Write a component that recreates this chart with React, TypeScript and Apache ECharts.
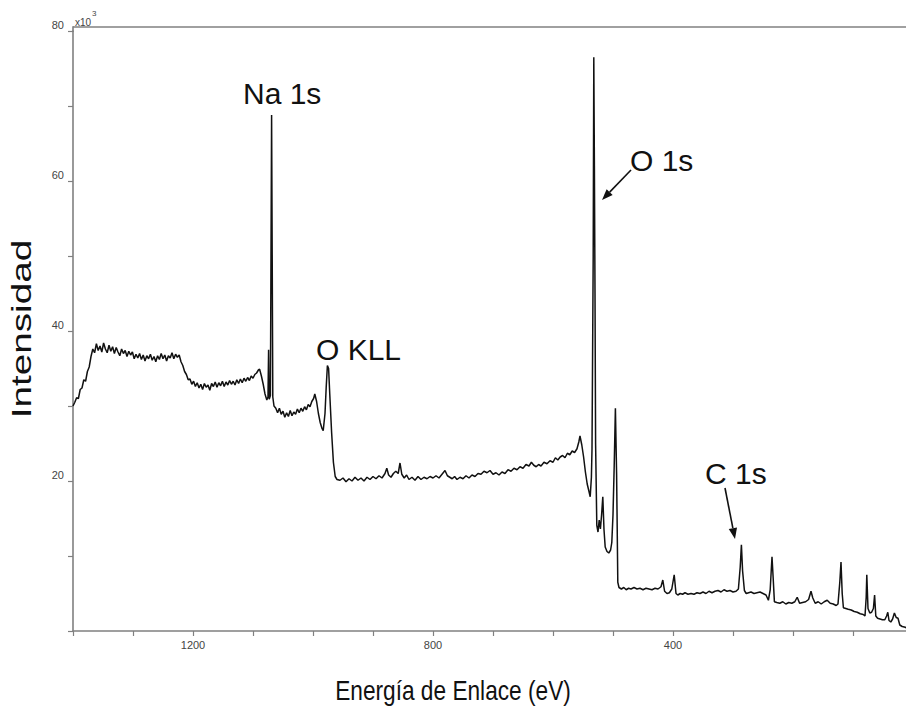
import React, { useEffect, useRef } from "react";
import * as echarts from "echarts";

// XPS survey spectrum: [binding energy (eV), intensity (x10^3 counts)]
const segHighBE: number[][] = [
  [1400, 30.0], [1397, 30.5], [1394, 31.1], [1391, 31.0], [1388, 32.2], [1385, 32.4], [1382, 33.5], [1379, 33.3],
  [1376, 34.6], [1373, 35.2], [1370, 36.6], [1367, 37.6], [1364, 37.1], [1361, 38.3], [1358, 37.4], [1355, 38.0],
  [1352, 37.2], [1349, 38.4], [1346, 37.6], [1343, 37.1], [1340, 38.1], [1337, 37.3], [1334, 37.9], [1331, 37.0],
  [1328, 37.8], [1325, 37.2], [1322, 36.7], [1319, 37.6], [1316, 37.0], [1313, 37.4], [1310, 36.6], [1307, 37.3],
  [1304, 36.8], [1301, 37.2], [1298, 36.3], [1295, 36.9], [1292, 36.4], [1289, 37.0], [1286, 36.2], [1283, 36.8],
  [1280, 36.0], [1277, 36.7], [1274, 36.3], [1271, 36.9], [1268, 36.1], [1265, 36.6], [1262, 35.9], [1259, 36.7],
  [1256, 36.2], [1253, 37.0], [1250, 36.3], [1247, 36.8], [1244, 36.0], [1241, 36.7], [1238, 36.4], [1235, 37.1],
  [1232, 36.3], [1229, 36.9], [1226, 36.5], [1223, 36.8], [1220, 35.9], [1217, 35.4], [1214, 34.6], [1211, 34.2],
  [1208, 33.5], [1205, 33.6], [1202, 32.9], [1199, 33.3], [1196, 32.6],
];
const segNa: number[][] = [
  [1193, 33.1], [1190, 32.4], [1187, 32.9], [1184, 32.2], [1181, 33.0], [1178, 32.5], [1175, 32.8], [1172, 32.1],
  [1169, 33.0], [1166, 32.6], [1163, 33.2], [1160, 32.5], [1157, 33.1], [1154, 32.7], [1151, 33.3], [1148, 32.6],
  [1145, 33.2], [1142, 32.8], [1139, 33.4], [1136, 32.9], [1133, 33.3], [1130, 32.8], [1127, 33.5], [1124, 33.0],
  [1121, 33.6], [1118, 33.1], [1115, 33.7], [1112, 33.3], [1109, 33.8], [1106, 33.4], [1103, 34.0], [1100, 33.7],
  [1097, 34.2], [1094, 34.4], [1091, 34.8], [1089, 34.9], [1086, 34.0], [1083, 32.9], [1080, 31.6], [1077, 30.8],
  [1075, 31.2], [1074, 37.5], [1073, 30.9], [1071, 31.4], [1069, 68.8], [1067, 31.2], [1065, 30.0], [1062, 29.7],
];
const segOKLL: number[][] = [
  [1059, 29.1], [1056, 29.7], [1053, 28.9], [1050, 29.3], [1047, 28.5], [1044, 29.1], [1041, 28.6], [1038, 29.4],
  [1035, 28.7], [1032, 29.2], [1029, 28.9], [1026, 29.6], [1023, 29.1], [1020, 29.7], [1017, 29.3], [1014, 29.9],
  [1011, 29.5], [1008, 30.2], [1005, 29.9], [1002, 30.6], [999, 31.0], [997, 31.6], [994, 30.6], [991, 29.0],
  [988, 27.8], [985, 27.0], [983, 26.7], [980, 29.0], [978, 32.5], [976, 35.4], [974, 35.0], [972, 31.5],
  [969, 26.5], [966, 22.5], [963, 20.6], [960, 20.2],
];
const segMid: number[][] = [
  [955, 20.1], [950, 20.4], [945, 19.9], [940, 20.3], [935, 20.0], [930, 20.5], [925, 20.1], [920, 20.4],
  [915, 20.0], [910, 20.5], [905, 20.2], [900, 20.6], [895, 20.3], [890, 20.7], [885, 20.4], [880, 21.0],
  [877, 21.7], [874, 20.8], [870, 20.5], [866, 21.0], [862, 21.3], [858, 21.0], [855, 22.4], [852, 20.9],
  [848, 20.4], [844, 20.8], [840, 20.2], [835, 20.5], [830, 20.1], [825, 20.6], [820, 20.2], [815, 20.5],
  [810, 20.3], [805, 20.6], [800, 20.4], [795, 20.7], [790, 20.4], [785, 20.9], [780, 21.4], [776, 20.7],
  [772, 20.5], [768, 20.3], [764, 20.6], [760, 20.2], [755, 20.5], [750, 20.3], [745, 20.7], [740, 20.4],
  [735, 20.8], [730, 20.6], [725, 21.0], [720, 20.9], [715, 21.3], [710, 21.1], [705, 21.4], [700, 20.9],
  [695, 21.1], [690, 20.8], [685, 21.2], [680, 21.0], [675, 21.5], [670, 21.3], [665, 21.7], [660, 21.5],
  [655, 21.9], [650, 21.7], [645, 22.2], [640, 22.0], [636, 22.5], [632, 22.1], [628, 21.9], [624, 22.2],
  [620, 22.0], [615, 22.5], [610, 22.3], [605, 22.7], [600, 22.5], [596, 23.1], [592, 22.8], [588, 23.2],
  [584, 23.4], [580, 23.1], [576, 23.7], [572, 23.5], [568, 24.0], [564, 23.8], [560, 24.3], [557, 25.2],
  [555, 26.0], [552, 24.8], [549, 23.2], [546, 21.2], [543, 19.6], [540, 18.6], [538, 17.9],
];
const segO1s: number[][] = [
  [536, 20.5], [535, 24.2], [533, 50.0], [532, 76.5], [531, 62.0], [530, 45.0], [529, 25.0], [527, 14.1],
  [525, 13.2], [523, 14.8], [521, 13.6], [519, 15.5], [517, 17.9], [515, 13.5], [513, 11.2], [510, 10.6],
  [507, 10.4], [504, 10.8], [502, 11.8], [500, 15.5], [498, 22.0], [496, 29.7], [494, 21.0], [492, 6.5],
  [490, 5.8],
];
const segLowBE: number[][] = [
  [486, 5.6], [482, 5.8], [478, 5.5], [474, 5.7], [470, 5.6], [465, 5.8], [460, 5.6], [455, 5.7],
  [450, 5.5], [445, 5.7], [440, 5.6], [435, 5.5], [430, 5.7], [425, 5.6], [420, 5.9], [417, 6.8],
  [414, 5.3], [410, 5.0], [406, 5.1], [402, 5.6], [398, 7.5], [395, 5.0], [392, 4.8], [388, 5.0],
  [384, 4.9], [380, 5.1], [375, 4.9], [370, 5.0], [365, 4.9], [360, 5.1], [355, 5.0], [350, 5.2],
  [345, 5.0], [340, 5.3], [335, 5.1], [330, 5.3], [325, 5.4], [320, 5.2], [315, 5.5], [310, 5.3],
  [305, 5.4], [300, 5.2], [295, 5.3], [291, 5.6], [288, 8.5], [286, 11.5], [284, 8.0], [281, 5.4],
  [278, 5.0], [274, 5.1], [270, 5.2], [265, 5.0], [260, 5.1], [255, 5.2], [250, 5.0], [245, 4.8],
  [241, 4.1], [238, 5.5], [235, 9.9], [233, 7.0], [231, 3.9], [227, 3.8], [222, 3.7], [217, 3.9],
  [212, 3.6], [207, 3.8], [202, 3.7], [197, 3.9], [193, 4.5], [189, 3.7], [184, 3.8], [179, 3.9],
  [174, 4.2], [170, 5.3], [167, 4.4], [163, 3.7], [158, 3.9], [153, 3.6], [148, 3.9], [143, 4.1],
  [138, 3.7], [133, 3.6], [128, 3.4], [125, 3.6], [122, 6.5], [120, 9.2], [118, 5.0], [116, 3.1],
  [112, 3.0], [108, 2.9], [103, 2.8], [98, 2.6], [93, 2.5], [88, 2.3], [83, 2.2], [80, 2.0],
  [78, 4.5], [77, 7.5], [75, 3.0], [72, 2.4], [69, 2.5], [66, 3.0], [64, 4.8], [62, 2.0],
  [59, 1.7], [55, 1.6], [51, 1.5], [47, 1.5], [44, 2.0], [42, 2.5], [40, 1.4], [37, 1.2],
  [34, 1.6], [31, 2.4], [28, 1.8], [25, 1.7], [22, 0.8], [18, 0.6], [13, 0.5], [10, 0.4],
];

const xLabelTicks = [400, 800, 1200];
const yLabelTicks = [20, 40, 60, 80];

const peakLabels = ["Na 1s", "O KLL", "O 1s", "C 1s"];

const FONT = "'Liberation Sans', Arial, Helvetica, sans-serif";

function arrow(x1: number, y1: number, x2: number, y2: number) {
  const dx = x2 - x1;
  const dy = y2 - y1;
  const len = Math.sqrt(dx * dx + dy * dy);
  const ux = dx / len;
  const uy = dy / len;
  const hl = 11;
  const hw = 4.2;
  const bx = x2 - ux * hl;
  const by = y2 - uy * hl;
  return [
    { type: "line", shape: { x1, y1, x2: bx, y2: by }, style: { stroke: "#111", lineWidth: 1.6 } },
    {
      type: "polygon",
      shape: { points: [[x2, y2], [bx - uy * hw, by + ux * hw], [bx + uy * hw, by - ux * hw]] },
      style: { fill: "#111" },
    },
  ];
}

export default function App() {
  const ref = useRef<HTMLDivElement>(null);
  useEffect(() => {
    if (!ref.current) return;
    const chart = echarts.init(ref.current, null, { renderer: "svg" });
    const data = [...segHighBE, ...segNa, ...segOKLL, ...segMid, ...segO1s, ...segLowBE];
    const labelStyle = { fill: "#111", fontSize: 30, fontFamily: FONT, verticalAlign: "middle", align: "left" };
    chart.setOption({
      animation: false,
      backgroundColor: "#ffffff",
      grid: { left: 73, top: 31, width: 840, height: 600, outerBoundsMode: "none", containLabel: false },
      xAxis: {
        type: "value",
        inverse: true,
        min: 0,
        max: 1400,
        interval: 100,
        axisLine: { show: true, onZero: false, lineStyle: { color: "#808080", width: 1.6 } },
        axisTick: { show: true, length: 5, lineStyle: { color: "#808080", width: 1.2 } },
        splitLine: { show: false },
        axisLabel: {
          margin: 8,
          fontSize: 11,
          color: "#444",
          fontFamily: FONT,
          formatter: (v: number) => (xLabelTicks.includes(v) ? String(v) : ""),
        },
      },
      yAxis: {
        type: "value",
        min: 0,
        max: 80,
        interval: 10,
        axisLine: { show: true, onZero: false, lineStyle: { color: "#808080", width: 1.6 } },
        axisTick: { show: true, length: 5, lineStyle: { color: "#808080", width: 1.2 } },
        splitLine: { show: false },
        axisLabel: {
          margin: 9,
          fontSize: 11,
          color: "#444",
          fontFamily: FONT,
          verticalAlign: "bottom",
          lineHeight: 12,
          formatter: (v: number) => (yLabelTicks.includes(v) ? String(v) : ""),
        },
      },
      series: [
        {
          type: "line",
          data,
          showSymbol: false,
          symbol: "none",
          lineStyle: { color: "#111", width: 1.5 },
          z: 3,
        },
      ],
      graphic: [
        { type: "line", shape: { x1: 73, y1: 27, x2: 906, y2: 27 }, style: { stroke: "#808080", lineWidth: 1.6 } },
        { type: "line", shape: { x1: 73, y1: 26.2, x2: 73, y2: 32 }, style: { stroke: "#808080", lineWidth: 1.6 } },
        { type: "text", x: 75, y: 22, style: { text: "x10", fontSize: 10, fill: "#444", fontFamily: FONT, verticalAlign: "middle" } },
        { type: "text", x: 92, y: 13, style: { text: "3", fontSize: 8, fill: "#444", fontFamily: FONT, verticalAlign: "middle" } },
        { type: "text", x: 243, y: 93, style: { ...labelStyle, text: peakLabels[0] } },
        { type: "text", x: 316, y: 349, style: { ...labelStyle, text: peakLabels[1] } },
        { type: "text", x: 630, y: 160, style: { ...labelStyle, text: peakLabels[2] } },
        { type: "text", x: 705, y: 473, style: { ...labelStyle, text: peakLabels[3] } },
        ...arrow(631, 170, 602, 200),
        ...arrow(725, 488, 735, 539),
        {
          type: "text",
          x: 453,
          y: 690,
          scaleX: 0.84,
          style: { text: "Energía de Enlace (eV)", fontSize: 27, fill: "#111", fontFamily: FONT, align: "center", verticalAlign: "middle" },
        },
        {
          type: "text",
          x: 21,
          y: 329,
          rotation: Math.PI / 2,
          scaleX: 1.38,
          style: { text: "Intensidad", fontSize: 28, fill: "#111", fontFamily: FONT, align: "center", verticalAlign: "middle" },
        },
      ],
    });
    return () => chart.dispose();
  }, []);
  return (
    <div
      ref={ref}
      style={{ position: "fixed", left: 0, top: 0, width: 906, height: 712, background: "#fff" }}
    />
  );
}
